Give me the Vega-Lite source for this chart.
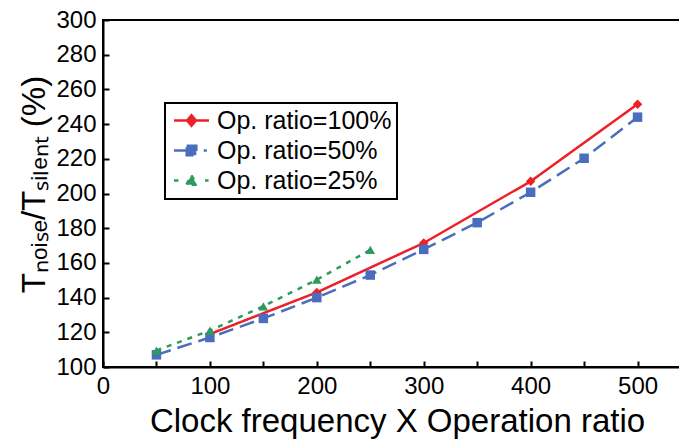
{
  "$schema": "https://vega.github.io/schema/vega-lite/v6.json",
  "width": 588,
  "height": 347,
  "autosize": {"type": "none"},
  "padding": {"left": 103, "top": 20, "right": 0, "bottom": 72},
  "background": "white",
  "config": {
    "font": "Liberation Sans",
    "view": {"stroke": "black", "strokeWidth": 2},
    "axis": {
      "grid": false,
      "domainColor": "black",
      "domainWidth": 2,
      "tickColor": "black",
      "tickWidth": 2,
      "tickSize": -6,
      "labelColor": "black",
      "titleColor": "black",
      "labelFont": "Liberation Sans",
      "titleFont": "Liberation Sans",
      "labelFontSize": 24,
      "titleFontSize": 33,
      "titleFontWeight": "normal"
    }
  },
  "data": {
    "values": [
      {"x": 100, "y": 119, "series": "Op. ratio=100%"},
      {"x": 200, "y": 143, "series": "Op. ratio=100%"},
      {"x": 300, "y": 171.5, "series": "Op. ratio=100%"},
      {"x": 400, "y": 207, "series": "Op. ratio=100%"},
      {"x": 500, "y": 251.5, "series": "Op. ratio=100%"},
      {"x": 50, "y": 107, "series": "Op. ratio=50%"},
      {"x": 100, "y": 117, "series": "Op. ratio=50%"},
      {"x": 150, "y": 128, "series": "Op. ratio=50%"},
      {"x": 200, "y": 140, "series": "Op. ratio=50%"},
      {"x": 250, "y": 153, "series": "Op. ratio=50%"},
      {"x": 300, "y": 167.8, "series": "Op. ratio=50%"},
      {"x": 350, "y": 183.2, "series": "Op. ratio=50%"},
      {"x": 400, "y": 200.7, "series": "Op. ratio=50%"},
      {"x": 450, "y": 220.3, "series": "Op. ratio=50%"},
      {"x": 500, "y": 244, "series": "Op. ratio=50%"},
      {"x": 50, "y": 109.5, "series": "Op. ratio=25%"},
      {"x": 100, "y": 121, "series": "Op. ratio=25%"},
      {"x": 150, "y": 135, "series": "Op. ratio=25%"},
      {"x": 200, "y": 150.3, "series": "Op. ratio=25%"},
      {"x": 250, "y": 167.5, "series": "Op. ratio=25%"}
    ]
  },
  "encoding": {
    "x": {
      "field": "x",
      "type": "quantitative",
      "scale": {"domain": [0, 550], "nice": false, "zero": false},
      "axis": {
        "title": "Clock frequency X Operation ratio",
        "values": [0, 50, 100, 150, 200, 250, 300, 350, 400, 450, 500, 550],
        "labelExpr": "datum.value % 100 === 0 ? datum.label : ''",
        "labelPadding": 13,
        "titlePadding": 7,
        "labelFlush": false,
        "labelOverlap": false
      }
    },
    "y": {
      "field": "y",
      "type": "quantitative",
      "scale": {"domain": [100, 300], "nice": false, "zero": false},
      "axis": {
        "title": "Tₙₒᵢₛₑ/Tₛᵢₗₑₙₜ (%)",
        "values": [100, 120, 140, 160, 180, 200, 220, 240, 260, 280, 300],
        "labelPadding": 13,
        "titlePadding": 4,
        "titleY": 164,
        "labelFlush": false,
        "labelOverlap": false
      }
    },
    "color": {
      "field": "series",
      "type": "nominal",
      "scale": {
        "domain": ["Op. ratio=100%", "Op. ratio=50%", "Op. ratio=25%"],
        "range": ["#ee2027", "#4a6ebe", "#2e9a5c"]
      },
      "legend": {
        "title": null,
        "orient": "none",
        "legendX": 62,
        "legendY": 83,
        "padding": 5,
        "symbolSize": 306,
        "symbolOffset": 9,
        "symbolStrokeWidth": 2.5,
        "labelOffset": 13,
        "labelFontSize": 25,
        "labelFont": "Liberation Sans",
        "labelColor": "black",
        "labelLimit": 400,
        "rowPadding": 4,
        "encode": {
          "legend": {"update": {"stroke": {"value": "black"}, "strokeWidth": {"value": 2}}},
          "symbols": {
            "update": {
              "shape": {"signal": "datum.value === 'Op. ratio=100%' ? 'M-2,0L2,0M0,-0.6L0.5,0L0,0.6L-0.5,0Z' : datum.value === 'Op. ratio=50%' ? 'M-2,0L-0.7,0M1.4,0L1.75,0M-0.55,-0.55L0.55,-0.55L0.55,0.55L-0.55,0.55Z' : 'M-2,0L-1.5,0M1.55,0L1.95,0M0,-0.6L0.6,0.5L-0.6,0.5Z'"},
              "fill": {"scale": "color", "field": "value"},
              "stroke": {"scale": "color", "field": "value"},
              "strokeDash": {"value": []},
              "opacity": {"value": 1}
            }
          }
        }
      }
    }
  },
  "layer": [
    {
      "mark": {"type": "line", "strokeWidth": 2.5},
      "encoding": {
        "strokeDash": {
          "field": "series",
          "type": "nominal",
          "scale": {
            "domain": ["Op. ratio=100%", "Op. ratio=50%", "Op. ratio=25%"],
            "range": [[1, 0], [15, 7], [5, 6]]
          },
          "legend": null
        }
      }
    },
    {
      "transform": [{"filter": "datum.series === 'Op. ratio=100%'"}],
      "mark": {"type": "point", "filled": true, "opacity": 1, "shape": "diamond", "size": 90}
    },
    {
      "transform": [{"filter": "datum.series === 'Op. ratio=50%'"}],
      "mark": {"type": "point", "filled": true, "opacity": 1, "shape": "square", "size": 90}
    },
    {
      "transform": [{"filter": "datum.series === 'Op. ratio=25%'"}],
      "mark": {"type": "point", "filled": true, "opacity": 1, "shape": "triangle-up", "size": 90}
    }
  ]
}
